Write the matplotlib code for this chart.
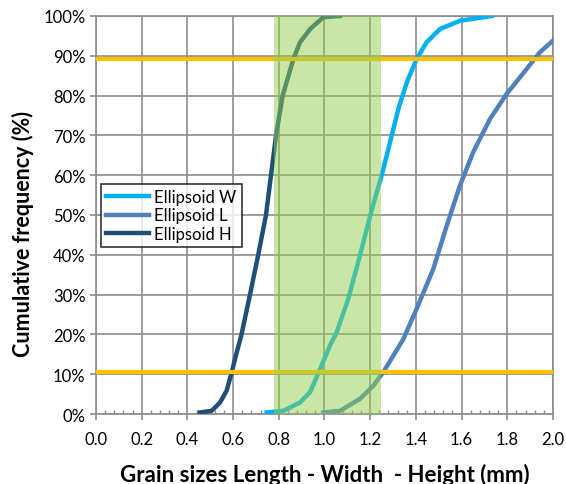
import matplotlib
matplotlib.use('Agg')
from matplotlib import pyplot as plt
from matplotlib.ticker import MultipleLocator, FuncFormatter

# cumulative frequency curves (size in mm, frequency in %)
w_size = [0.747, 0.82, 0.893, 0.937, 0.975, 1.024, 1.053, 1.104, 1.155, 1.21,
          1.25, 1.287, 1.323, 1.36, 1.403, 1.447, 1.505, 1.593, 1.732]
w_freq = [0.4, 0.8, 2.9, 5.5, 10.5, 17.2, 20.5, 28.9, 39.8, 52,
          59.9, 68.3, 76.6, 83.3, 89.2, 93.4, 96.7, 98.8, 100]

l_size = [0.995, 1.068, 1.155, 1.214, 1.257, 1.345, 1.403, 1.476, 1.535, 1.593,
          1.651, 1.724, 1.797, 1.885, 1.943, 2.0]
l_freq = [0.4, 0.8, 3.8, 7.1, 10.5, 18.8, 26.4, 36.4, 47.3, 57.4,
          65.8, 74.1, 80.4, 86.7, 90.9, 93.8]

h_size = [0.455, 0.506, 0.543, 0.572, 0.594, 0.616, 0.637, 0.674, 0.71, 0.744, 0.766,
          0.788, 0.817, 0.864, 0.893, 0.937, 0.995, 1.068]
h_freq = [0.4, 0.8, 2.9, 5.9, 10.5, 15.5, 20, 30, 40, 50, 60,
          70, 80, 89.2, 93.4, 96.7, 99.7, 100]

d10 = 10.5
d90 = 89.2
band = (0.78, 1.247)

plt.rcParams['font.family'] = ['Lato', 'DejaVu Sans']

fig = plt.figure(figsize=(5.66, 4.85), dpi=100)
ax = fig.add_axes([0.1696, 0.1443, 0.8074, 0.8207])

ax.plot(w_size, w_freq, color='#00B0F0', lw=3.2, label='Ellipsoid W', zorder=3,
        solid_joinstyle='round')
ax.plot(l_size, l_freq, color='#4F81BD', lw=3.2, label='Ellipsoid L', zorder=3,
        solid_joinstyle='round')
ax.plot(h_size, h_freq, color='#1F4E79', lw=3.2, label='Ellipsoid H', zorder=3,
        solid_joinstyle='round')

ax.axhline(d10, color='#FFC000', lw=3, zorder=4)
ax.axhline(d90, color='#FFC000', lw=3, zorder=4)
ax.axvspan(band[0], band[1], color='#92D050', alpha=0.5, lw=0, zorder=5)

ax.set_xlim(0, 2.0)
ax.set_ylim(0, 100)
ax.xaxis.set_major_locator(MultipleLocator(0.2))
ax.xaxis.set_minor_locator(MultipleLocator(0.04))
ax.yaxis.set_major_locator(MultipleLocator(10))
ax.xaxis.set_major_formatter(FuncFormatter(lambda v, p: f'{v:.1f}'))
ax.yaxis.set_major_formatter(FuncFormatter(lambda v, p: f'{v:.0f}%'))

ax.grid(True, which='major', color='#8C8C8C', lw=1.2, zorder=1)
ax.set_axisbelow(True)
for s in ax.spines.values():
    s.set_color('#8C8C8C')
    s.set_linewidth(1.2)
ax.tick_params(axis='both', which='major', colors='#8C8C8C', length=4, width=1.2,
               labelcolor='black', labelsize=12)
ax.tick_params(axis='x', which='minor', direction='in', colors='#8C8C8C', length=3, width=1)
ax.tick_params(axis='x', which='major', pad=8)

ax.set_xlabel('Grain sizes Length - Width  - Height (mm)', fontsize=16, fontweight='bold')
ax.xaxis.set_label_coords(0.5, -0.122)
ax.set_ylabel('Cumulative frequency (%)', fontsize=15.5, fontweight='bold')
ax.yaxis.set_label_coords(-0.135, 0.455)

leg = ax.legend(loc='lower left', bbox_to_anchor=(0.011, 0.42), fontsize=12,
                frameon=True, fancybox=False, handlelength=2.6, borderpad=0.3,
                labelspacing=0.15, handletextpad=0.3, borderaxespad=0)
leg.get_frame().set_edgecolor('black')
leg.get_frame().set_linewidth(1.2)

fig.savefig('out.png', dpi=100)
